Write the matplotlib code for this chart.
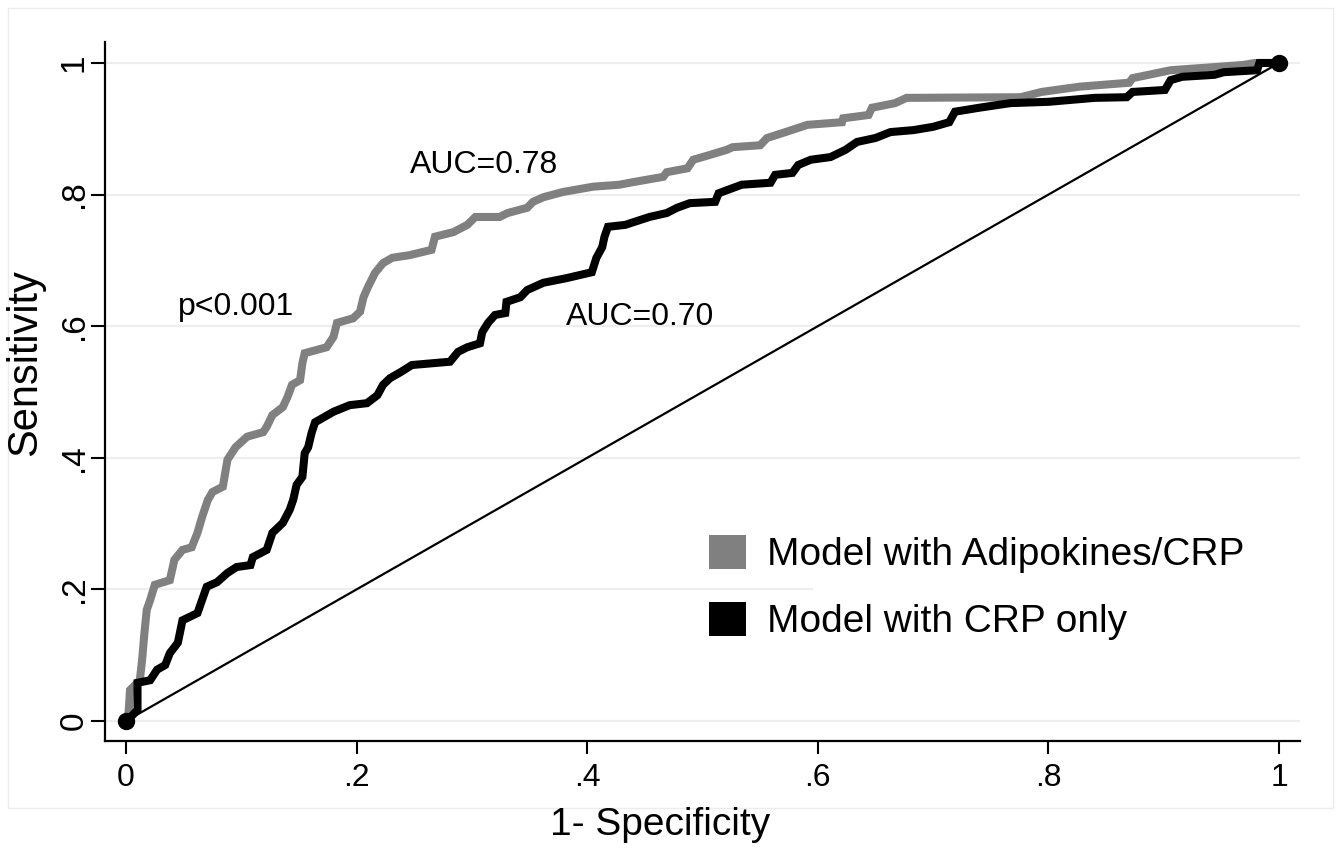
import matplotlib
matplotlib.use("Agg")
import matplotlib.pyplot as plt
from matplotlib.patches import Patch, Rectangle

plt.rcParams['font.family'] = ['Liberation Sans', 'DejaVu Sans']

# ROC curve: Model with Adipokines/CRP (1-specificity, sensitivity)
adipo_fpr = [0.0, 0.002, 0.0035, 0.012, 0.014, 0.016, 0.018, 0.021, 0.025, 0.038, 0.042,
             0.049, 0.057, 0.062, 0.066, 0.071, 0.075, 0.084, 0.088, 0.095, 0.105, 0.119,
             0.122, 0.127, 0.136, 0.140, 0.144, 0.151, 0.153, 0.155, 0.174, 0.180, 0.183,
             0.197, 0.203, 0.206, 0.210, 0.216, 0.223, 0.231, 0.246, 0.265, 0.268, 0.284,
             0.296, 0.303, 0.324, 0.331, 0.348, 0.353, 0.362, 0.379, 0.405, 0.428, 0.440,
             0.466, 0.469, 0.487, 0.492, 0.500, 0.521, 0.526, 0.550, 0.556, 0.572, 0.591,
             0.621, 0.622, 0.644, 0.647, 0.667, 0.677, 0.776, 0.794, 0.827, 0.870, 0.873,
             0.906, 0.969, 0.979, 1.0]
adipo_tpr = [0.0, 0.006, 0.047, 0.062, 0.093, 0.134, 0.169, 0.184, 0.207, 0.214, 0.245,
             0.260, 0.264, 0.286, 0.310, 0.336, 0.348, 0.356, 0.397, 0.416, 0.432, 0.439,
             0.447, 0.465, 0.477, 0.492, 0.511, 0.518, 0.544, 0.559, 0.568, 0.584, 0.605,
             0.612, 0.622, 0.644, 0.660, 0.681, 0.696, 0.704, 0.708, 0.716, 0.736, 0.743,
             0.754, 0.766, 0.766, 0.772, 0.780, 0.789, 0.796, 0.804, 0.812, 0.815, 0.819,
             0.827, 0.834, 0.840, 0.853, 0.857, 0.868, 0.872, 0.875, 0.886, 0.895, 0.906,
             0.910, 0.916, 0.921, 0.932, 0.939, 0.947, 0.948, 0.956, 0.964, 0.970, 0.977,
             0.989, 0.997, 1.0, 1.0]

# ROC curve: Model with CRP only
crp_fpr = [0.0, 0.002, 0.010, 0.010, 0.021, 0.027, 0.034, 0.038, 0.045, 0.049, 0.062,
           0.066, 0.070, 0.079, 0.088, 0.096, 0.108, 0.110, 0.122, 0.127, 0.136, 0.142,
           0.145, 0.148, 0.153, 0.155, 0.158, 0.161, 0.164, 0.180, 0.194, 0.209, 0.218,
           0.223, 0.229, 0.238, 0.248, 0.281, 0.288, 0.296, 0.307, 0.309, 0.314, 0.320,
           0.329, 0.330, 0.342, 0.348, 0.362, 0.382, 0.404, 0.408, 0.413, 0.415, 0.418,
           0.433, 0.454, 0.469, 0.478, 0.489, 0.511, 0.514, 0.534, 0.559, 0.563, 0.578,
           0.583, 0.594, 0.611, 0.624, 0.634, 0.650, 0.663, 0.683, 0.700, 0.714, 0.719,
           0.740, 0.767, 0.800, 0.840, 0.868, 0.873, 0.901, 0.906, 0.916, 0.944, 0.952,
           0.981, 0.983, 1.0]
crp_tpr = [0.0, 0.002, 0.017, 0.058, 0.062, 0.078, 0.085, 0.103, 0.119, 0.153, 0.164,
           0.184, 0.204, 0.211, 0.225, 0.234, 0.237, 0.249, 0.260, 0.286, 0.301, 0.321,
           0.336, 0.359, 0.371, 0.407, 0.416, 0.438, 0.454, 0.470, 0.480, 0.483, 0.495,
           0.511, 0.521, 0.530, 0.541, 0.546, 0.561, 0.568, 0.574, 0.591, 0.605, 0.617,
           0.620, 0.637, 0.644, 0.655, 0.666, 0.673, 0.682, 0.704, 0.720, 0.736, 0.751,
           0.754, 0.766, 0.772, 0.780, 0.787, 0.789, 0.802, 0.815, 0.818, 0.830, 0.833,
           0.845, 0.853, 0.857, 0.868, 0.880, 0.886, 0.895, 0.898, 0.903, 0.910, 0.926,
           0.932, 0.939, 0.941, 0.947, 0.948, 0.956, 0.959, 0.974, 0.979, 0.982, 0.986,
           0.989, 1.0, 1.0]

ref_line = [0.0, 1.0]
ticks = [0, 0.2, 0.4, 0.6, 0.8, 1.0]
tick_labels = ['0', '.2', '.4', '.6', '.8', '1']
legend_labels = ['Model with Adipokines/CRP', 'Model with CRP only']
annotations = [('AUC=0.78', 0.3105, 0.845), ('p<0.001', 0.0954, 0.629), ('AUC=0.70', 0.446, 0.614)]

GRAY = '#808080'

W, H = 1340, 848
fig = plt.figure(figsize=(W / 100, H / 100), dpi=100)
fig.patch.set_facecolor('white')

# light outer frame
fig.add_artist(Rectangle((8 / W, 1 - 808 / H), 1325 / W, 800 / H, transform=fig.transFigure,
                         fill=False, edgecolor='#ececec', linewidth=1))

ax = fig.add_axes([105 / W, 1 - 741 / H, 1195 / W, 699 / H])
ax.set_xlim(-0.0182, 1.0182)
ax.set_ylim(-0.0304, 1.0319)

for t in ticks:
    xmax = 0.592 if abs(t - 0.2) < 1e-9 else 1.0
    ax.axhline(t, xmin=0, xmax=xmax, color='#eeeeee', linewidth=1.6, zorder=0)

ax.plot(ref_line, ref_line, color='black', linewidth=1.6, zorder=2)
ax.plot(adipo_fpr, adipo_tpr, color=GRAY, linewidth=5.8, solid_joinstyle='miter',
        solid_capstyle='butt', zorder=3)
ax.plot(crp_fpr, crp_tpr, color='black', linewidth=5.8, solid_joinstyle='miter',
        solid_capstyle='butt', zorder=4)
ax.plot(ref_line, ref_line, linestyle='none', marker='o', markersize=11.5,
        color='black', zorder=5, clip_on=False)

for txt, x, y in annotations:
    ax.text(x, y, txt, fontsize=23, ha='center', va='center')

ax.set_xticks(ticks)
ax.set_xticklabels(tick_labels)
ax.set_yticks(ticks)
ax.set_yticklabels(tick_labels, rotation=90, va='center')
ax.tick_params(axis='x', direction='out', length=9.5, width=1.5, labelsize=23, pad=6)
ax.tick_params(axis='y', direction='out', length=10, width=1.5, labelsize=24, pad=1)

for s in ['top', 'right']:
    ax.spines[s].set_visible(False)
for s in ['left', 'bottom']:
    ax.spines[s].set_linewidth(1.6)

fig.text(660 / W, 1 - 825 / H, '1- Specificity', fontsize=28, ha='center', va='center')
fig.text(25 / W, 1 - 363 / H, 'Sensitivity', fontsize=30, rotation=90, ha='center', va='center')

handles = [Patch(facecolor=GRAY, edgecolor='none'), Patch(facecolor='black', edgecolor='none')]
ax.legend(handles, legend_labels, loc='upper left', bbox_to_anchor=(709 / W, 1 - 535 / H),
          bbox_transform=fig.transFigure, frameon=False, fontsize=28, handlelength=0.95,
          handleheight=0.95, handletextpad=0.55, labelspacing=0.75, borderpad=0, borderaxespad=0)

fig.savefig('out.png', dpi=100, facecolor='white')
